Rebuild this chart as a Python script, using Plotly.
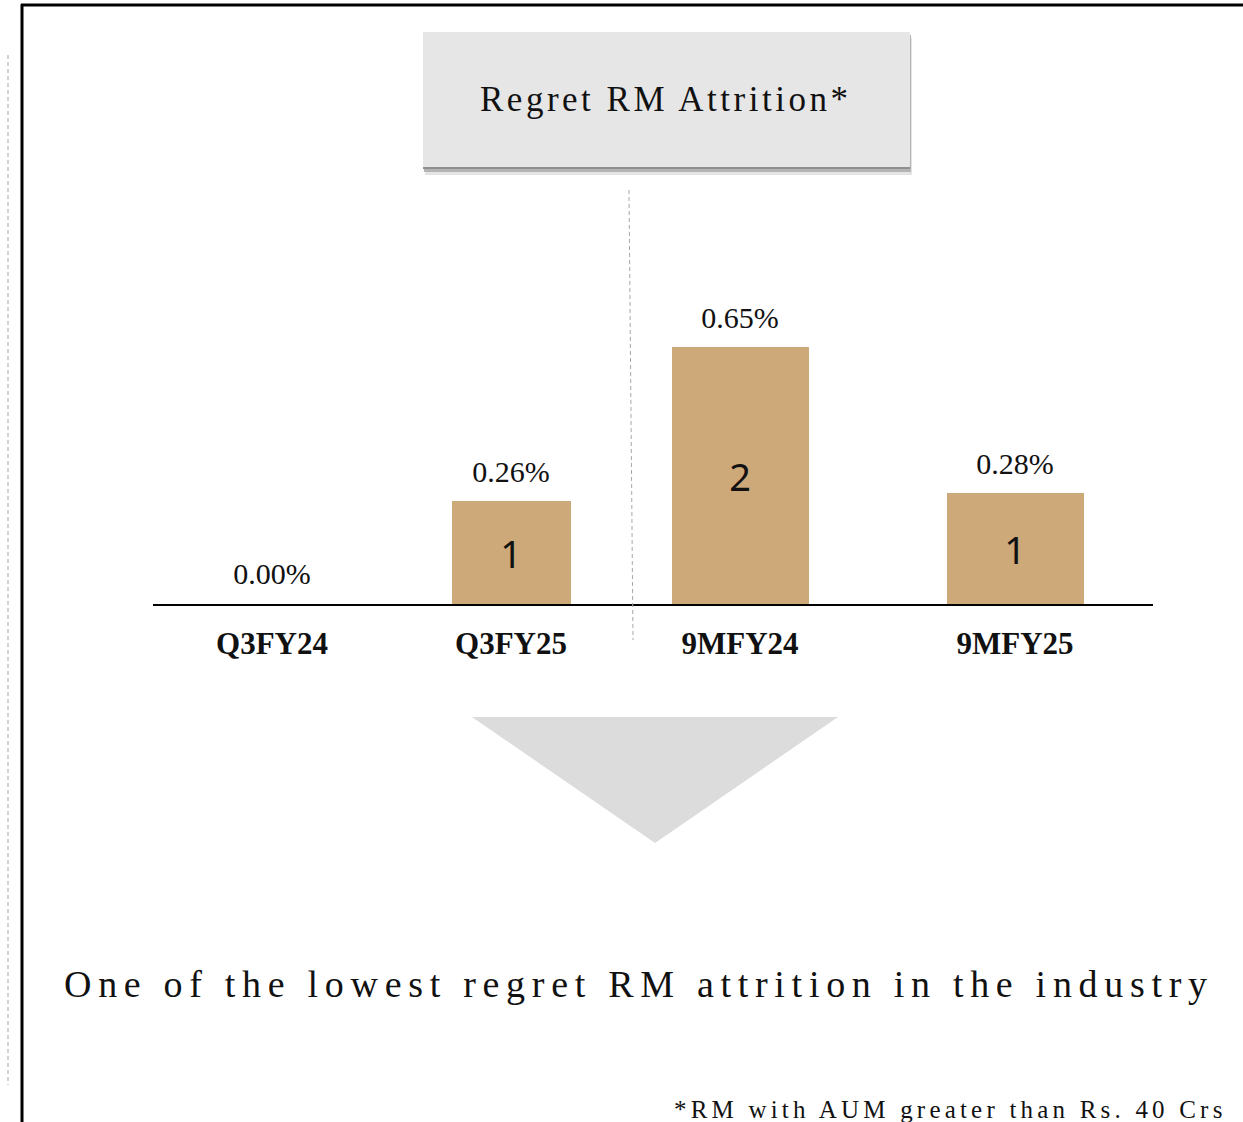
import plotly.graph_objects as go

# quarter comparison (left group) and nine-month comparison (right group)
quarters = ["Q3FY24", "Q3FY25"]
quarter_pct = [0.00, 0.26]
quarter_count = [0, 1]

ninemonths = ["9MFY24", "9MFY25"]
ninemonth_pct = [0.65, 0.28]
ninemonth_count = [2, 1]

title = "Regret RM Attrition*"
headline = "One of the lowest regret RM attrition in the industry"
footnote = "*RM with AUM greater than Rs. 40 Crs"

W, H = 1243, 1122
BAR = "#CDA879"
SERIF = "Liberation Serif"


def px(x):
    return x / W


def py(y):
    return 1 - y / H


def spaced(s, sp):
    return f'<span style="letter-spacing:{sp}px">{s}</span>'


fig = go.Figure()

for cats, pct, cnt, xa in [(quarters, quarter_pct, quarter_count, "x"),
                           (ninemonths, ninemonth_pct, ninemonth_count, "x2")]:
    fig.add_trace(go.Bar(
        x=cats, y=pct, xaxis=xa, yaxis="y",
        width=0.5,
        marker=dict(color=BAR, line=dict(width=0)),
        text=[str(c) if c else "" for c in cnt],
        textposition="inside",
        insidetextanchor="middle",
        textangle=0,
        insidetextfont=dict(family="Noto Sans", size=38, color="#111111"),
        hoverinfo="skip",
        showlegend=False,
    ))
    # percentage labels above bars (invisible markers push the text up a bit)
    fig.add_trace(go.Scatter(
        x=cats, y=pct, xaxis=xa, yaxis="y",
        mode="markers+text",
        marker=dict(size=18, opacity=0),
        text=[f"{v:.2f}%" for v in pct],
        textposition="top center",
        textfont=dict(family=SERIF, size=30, color="#111111"),
        hoverinfo="skip",
        showlegend=False,
    ))

axis_common = dict(
    type="category", showline=True, linecolor="black", linewidth=2,
    showgrid=False, zeroline=False, ticks="", fixedrange=True,
    tickfont=dict(family=SERIF, size=31, color="#111111", weight=700),
    ticklabelstandoff=11, anchor="y", range=[-0.5, 1.5],
)

P = dict(xref="paper", yref="paper")
shapes = [
    # box shadow + box
    dict(type="rect", x0=px(425), x1=px(912), y0=py(38), y1=py(175),
         fillcolor="#e4e4e4", line=dict(width=0), layer="below", **P),
    dict(type="rect", x0=px(424), x1=px(911), y0=py(35), y1=py(172),
         fillcolor="#b4b4b4", line=dict(width=0), layer="below", **P),
    dict(type="rect", x0=px(423), x1=px(910), y0=py(33), y1=py(169),
         fillcolor="#8f8f8f", line=dict(width=0), layer="below", **P),
    dict(type="rect", x0=px(423), x1=px(910), y0=py(32), y1=py(167),
         fillcolor="#E6E6E6", line=dict(width=0), layer="below", **P),
    # frame
    dict(type="line", x0=px(22), x1=px(22), y0=py(4), y1=py(1122),
         line=dict(color="black", width=3), **P),
    dict(type="line", x0=px(21), x1=px(1243), y0=py(5), y1=py(5),
         line=dict(color="black", width=3), **P),
    dict(type="line", x0=px(8), x1=px(8), y0=py(55), y1=py(1085),
         line=dict(color="#c4c4c4", width=1.5, dash="4px,3px"), **P),
    # divider between the two groups
    dict(type="line", x0=px(629), x1=px(633), y0=py(190), y1=py(640),
         line=dict(color="#a8a8a8", width=1, dash="4px,3px"), **P),
    # down arrow
    dict(type="path",
         path=f"M {px(472)} {py(717)} L {px(838)} {py(717)} L {px(655)} {py(843)} Z",
         fillcolor="#DCDCDC", line=dict(width=0), **P),
]

annotations = [
    dict(text=spaced(title, 3.5), x=px(666), y=py(100), showarrow=False,
         xanchor="center", yanchor="middle",
         font=dict(family=SERIF, size=35, color="#111111"), **P),
    dict(text=spaced(headline, 6.7), x=px(639), y=py(984), showarrow=False,
         xanchor="center", yanchor="middle",
         font=dict(family=SERIF, size=38, color="#111111"), **P),
    dict(text=spaced(footnote, 4.2), x=px(950), y=py(1094), showarrow=False,
         xanchor="center", yanchor="top",
         font=dict(family=SERIF, size=25, color="#111111"), **P),
]

fig.update_layout(
    width=W, height=H,
    margin=dict(l=0, r=0, t=0, b=0),
    paper_bgcolor="white",
    plot_bgcolor="rgba(0,0,0,0)",
    xaxis=dict(domain=[px(152.5), px(630.5)], **axis_common),
    xaxis2=dict(domain=[px(602.5), px(1152.5)], **axis_common),
    yaxis=dict(domain=[py(604), py(209)], range=[0, 1.0], visible=False,
               fixedrange=True),
    bargap=0,
    shapes=shapes,
    annotations=annotations,
)

fig.write_html("out.html", config=dict(displayModeBar=False),
               post_script="document.body.style.margin='0';")
